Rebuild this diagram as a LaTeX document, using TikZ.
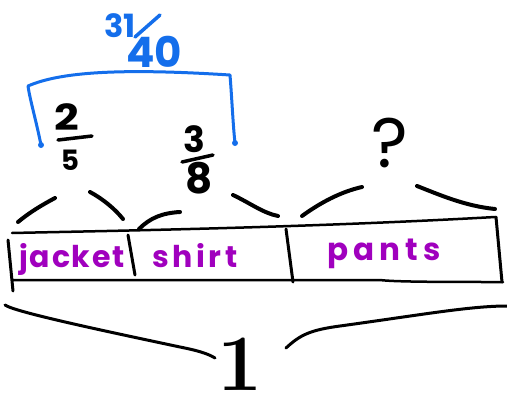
\documentclass[tikz,border=0pt]{standalone}
\usepackage{fontspec}
\newfontfamily\hand[LetterSpace=6]{Poppins}
\newfontfamily\handd{Poppins}
\definecolor{pen}{RGB}{20,110,235}
\definecolor{purp}{RGB}{160,0,190}
\tikzset{
  arcline/.style={line width=4pt,line cap=round},
  barline/.style={line width=2.5pt,line cap=round},
  bigline/.style={line width=3pt,line cap=round},
  lab/.style={text=purp,font=\hand\bfseries\fontsize{30}{30}\selectfont,inner sep=0pt},
  dig/.style={font=\handd\bfseries\fontsize{#1}{#1}\selectfont,inner sep=0pt}
}
\begin{document}
\begin{tikzpicture}[x=1pt,y=-1pt]
\useasboundingbox (0,0) rectangle (507,400);
% blue sum
\node[dig=32,text=pen] (n31) at (120,26) {31};
\node[dig=42,text=pen] (n40) at (154,52) {40};
\draw[pen,line width=3.5pt,line cap=round] (135,37) -- (160,15);
\coordinate (bl) at (41,145);
\coordinate (br) at (235,143);
\draw[pen,line width=3pt,line cap=round,line join=round] (bl) .. controls (36,120) and (30,100) .. (28,86)
  .. controls (60,72) and (120,68) .. (230,75) .. controls (232,100) and (233,125) .. (br);
\fill[pen] (bl) circle (3);
\fill[pen] (br) circle (3);
% fractions
\node[dig=36,xscale=1.2] (two) at (67,117) {2};
\draw[barline,line width=3.5pt] (58,140) -- (92,136);
\node[dig=28] (five) at (70,160) {5};
\node[dig=36] (three) at (194,139) {3};
\draw[barline,line width=3.5pt] (182,162) -- (213,155);
\node[dig=42] (eight) at (199,178) {8};
\node[font=\handd\fontsize{70}{70}\selectfont,inner sep=0pt] (q) at (390,143) {?};
% small braces
\draw[arcline] (18,222) .. controls (30,212) and (42,205) .. (55,198);
\draw[arcline] (90,192) .. controls (103,199) and (115,209) .. (123,219);
\draw[arcline] (139,229) .. controls (150,218) and (162,213) .. (180,212);
\draw[arcline] (233,195) .. controls (250,203) and (263,213) .. (278,216);
\draw[arcline] (302,216) .. controls (320,203) and (340,192) .. (362,187);
\draw[arcline] (417,186) .. controls (440,195) and (465,206) .. (495,209);
% bar
\draw[barline] (12,233) .. controls (100,231) and (300,228) .. (495,217);
\draw[barline] (13,280) .. controls (150,280) and (350,280) .. (380,280) .. controls (395,282) and (450,282) .. (503,282);
\draw[bigline] (8,240) -- (13,291);
\draw[bigline] (128,235) -- (135,275);
\draw[bigline] (286,229) -- (293,282);
\draw[bigline] (496,217) -- (502,282);
\node[lab] (jk) at (72,259) {jacket};
\node[lab,font=\hand\bfseries\fontsize{30}{30}\selectfont\addfontfeature{LetterSpace=12}] (sh) at (195,256) {shirt};
\node[lab,font=\hand\bfseries\fontsize{31}{31}\selectfont\addfontfeature{LetterSpace=16}] (pa) at (384,254) {pants};
% big brace
\draw[bigline] (5,305) .. controls (15,312) and (100,330) .. (180,347) .. controls (195,350) and (207,353) .. (215,358);
\draw[bigline] (286,348) .. controls (300,335) and (310,330) .. (340,326) .. controls (420,315) and (470,306) .. (507,306);
\node[font=\bfseries\fontsize{80}{80}\selectfont,inner sep=0pt] (one) at (240,364) {1};
\end{tikzpicture}
\end{document}
